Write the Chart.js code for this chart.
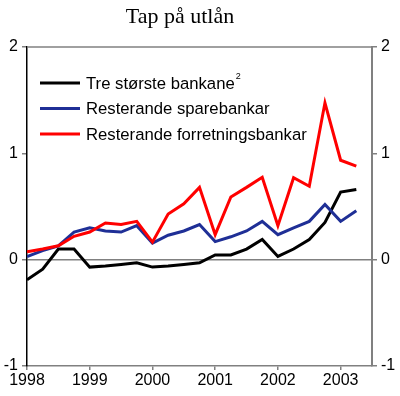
<!DOCTYPE html>
<html>
<head>
<meta charset="utf-8">
<script src="https://cdn.jsdelivr.net/npm/chart.js@4"></script>
<style>
  body { margin: 0; background: #fff; }
  #wrap { width: 400px; height: 396px; }
</style>
</head>
<body>
<div id="wrap"><canvas id="myChart"></canvas></div>
<script>
// quarters from 1998 Q1 to 2003 Q2
var firstYear = 1998;
var yTicks = [-1, 0, 1, 2];
var seriesNames = ["Tre største bankane", "Resterande sparebankar", "Resterande forretningsbankar"];
var seriesColors = ["#000000", "#1f2f96", "#ff0000"];

var tre = [-0.19, -0.09, 0.10, 0.10, -0.07, -0.06, -0.045, -0.03, -0.07, -0.06, -0.045, -0.03,
           0.045, 0.045, 0.10, 0.19, 0.03, 0.10, 0.19, 0.35, 0.635, 0.66];
var spare = [0.03, 0.085, 0.13, 0.26, 0.30, 0.27, 0.26, 0.32, 0.155, 0.23, 0.27, 0.33,
             0.17, 0.215, 0.27, 0.36, 0.235, 0.30, 0.36, 0.52, 0.36, 0.46];
var forr = [0.075, 0.10, 0.13, 0.22, 0.26, 0.345, 0.33, 0.36, 0.165, 0.43, 0.525, 0.68,
            0.235, 0.59, 0.68, 0.775, 0.32, 0.77, 0.69, 1.475, 0.935, 0.88];

var font = "Liberation Sans, Arial, sans-serif";

function toPoints(arr) {
  return arr.map(function(v, i) { return {x: i, y: v}; });
}

// title, top frame line and legend
var extras = {
  id: 'extras',
  afterDraw: function(chart) {
    var ctx = chart.ctx;
    var area = chart.chartArea;
    ctx.save();
    ctx.strokeStyle = '#808080';
    ctx.lineWidth = 1.5;
    ctx.beginPath();
    ctx.moveTo(area.left, area.top);
    ctx.lineTo(area.right, area.top);
    ctx.stroke();

    ctx.fillStyle = '#000';
    ctx.font = '22px "Liberation Serif", "Times New Roman", serif';
    ctx.textAlign = 'center';
    ctx.textBaseline = 'middle';
    ctx.fillText('Tap på utlån', 180, 17);

    ctx.textAlign = 'left';
    ctx.font = '16.7px ' + font;
    for (var i = 0; i < seriesNames.length; i++) {
      var y = 83 + i * 25.5;
      ctx.strokeStyle = seriesColors[i];
      ctx.lineWidth = 3;
      ctx.beginPath();
      ctx.moveTo(40, y);
      ctx.lineTo(80, y);
      ctx.stroke();
      ctx.fillText(seriesNames[i], 86, y + 1);
      if (i == 0) {
        var w = ctx.measureText(seriesNames[i]).width;
        ctx.font = '9px ' + font;
        ctx.fillText('2', 86 + w + 1, y - 6);
        ctx.font = '16.7px ' + font;
      }
    }
    ctx.restore();
  }
};

var datasets = [tre, spare, forr].map(function(arr, i) {
  return {
    label: seriesNames[i],
    data: toPoints(arr),
    borderColor: seriesColors[i],
    borderWidth: 3,
    pointRadius: 0,
    tension: 0,
    yAxisID: 'y',
    order: 3 - i
  };
});

new Chart(document.getElementById('myChart'), {
  type: 'line',
  data: { datasets: datasets },
  options: {
    responsive: true,
    maintainAspectRatio: false,
    animation: false,
    layout: { padding: { top: 47, left: 0, right: 0, bottom: 0 } },
    plugins: { legend: { display: false }, tooltip: { enabled: false } },
    scales: {
      x: {
        type: 'linear',
        min: 0,
        max: 22,
        afterBuildTicks: function(axis) {
          axis.ticks = [0, 4, 8, 12, 16, 20].map(function(v) { return {value: v}; });
        },
        afterFit: function(axis) { axis.height = 30; },
        ticks: {
          color: '#000',
          font: { family: font, size: 16 },
          padding: 1,
          maxRotation: 0,
          autoSkip: false,
          callback: function(v) { return String(firstYear + v / 4); }
        },
        grid: { drawOnChartArea: false, tickColor: '#808080', tickLength: 4, lineWidth: 1.5 },
        border: { color: '#808080', width: 1.5 }
      },
      y: {
        position: 'left',
        min: -1,
        max: 2,
        afterBuildTicks: function(axis) {
          axis.ticks = yTicks.map(function(v) { return {value: v}; });
        },
        afterFit: function(axis) { axis.width = 27; },
        ticks: { color: '#000', font: { family: font, size: 16 }, padding: 4 },
        grid: {
          color: function(c) { return c.tick && c.tick.value === 0 ? '#808080' : 'rgba(0,0,0,0)'; },
          tickColor: '#808080',
          tickLength: 5,
          lineWidth: 1.5
        },
        border: { color: '#000', width: 1.5 }
      },
      y2: {
        position: 'right',
        min: -1,
        max: 2,
        afterBuildTicks: function(axis) {
          axis.ticks = yTicks.map(function(v) { return {value: v}; });
        },
        afterFit: function(axis) { axis.width = 28; },
        ticks: { color: '#000', font: { family: font, size: 16 }, padding: 4 },
        grid: { drawOnChartArea: false, tickColor: '#808080', tickLength: 5, lineWidth: 1.5 },
        border: { color: '#808080', width: 2 }
      }
    }
  },
  plugins: [extras]
});
</script>
</body>
</html>
